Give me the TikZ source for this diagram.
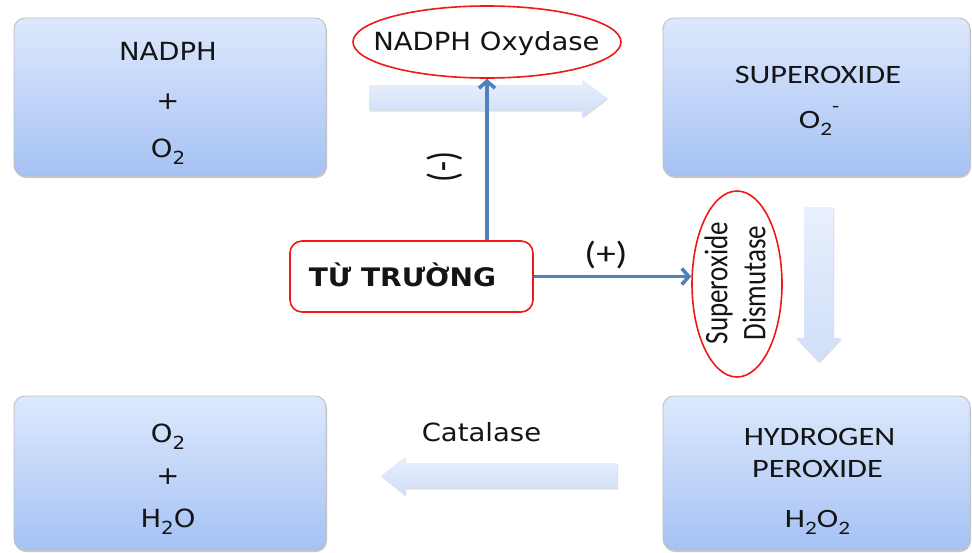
\documentclass[tikz,border=0pt]{standalone}
\usepackage{fontspec}
\usepackage{graphicx}
\usetikzlibrary{shapes.geometric,arrows.meta,shadows}
\setmainfont{DejaVu Sans}
\newfontfamily\vfont[FakeStretch=1.1]{DejaVu Sans}
\newfontfamily\cfont[FakeStretch=1.22]{Carlito}
\newfontfamily\cfontup{Carlito}

\definecolor{boxtop}{HTML}{DDE8FC}
\definecolor{boxbot}{HTML}{A5C2F4}
\definecolor{arrtop}{HTML}{E9F0FD}
\definecolor{arrbot}{HTML}{D0DEF8}
\definecolor{linkblue}{HTML}{4F81BD}
\definecolor{ink}{HTML}{141414}
\definecolor{enzred}{HTML}{F01818}

% chemical subscripts / charge
\newcommand\lowsub[1]{\raisebox{-0.28em}{\scalebox{0.72}{#1}}}
\newcommand\highminus{\raisebox{0.62em}{\scalebox{0.72}{-}}}

\begin{document}
\begin{tikzpicture}[x=1pt,y=-1pt,
  chembox/.style={rectangle, rounded corners=11pt, draw=black!25, line width=0.9pt,
    top color=boxtop, bottom color=boxbot, inner sep=0pt,
    drop shadow={shadow xshift=1pt, shadow yshift=-2pt, opacity=0.3, fill=black!70}},
  blockarrow/.style={top color=arrtop, bottom color=arrbot,
    drop shadow={shadow xshift=1pt, shadow yshift=-1.5pt, opacity=0.18, fill=black!70}},
  vtext/.style={font=\vfont\fontsize{25}{30}\selectfont, text=ink, inner sep=0pt, anchor=base},
  ctext/.style={font=\cfont\fontsize{26.5}{32}\selectfont, text=ink, inner sep=0pt, anchor=base},
  enzyme/.style={ellipse, draw=enzred, line width=1.6pt, fill=white, inner sep=0pt},
  link/.style={draw=linkblue, line width=3.6pt, -{Straight Barb[length=7pt,width=16pt]}},
]
\useasboundingbox (0,0) rectangle (972,552);
\fill[white] (0,0) rectangle (972,552);

% block arrows of the main pathway
\shade[blockarrow] (369,85) -- (582,85) -- (582,79) -- (607,98) -- (582,117)
  -- (582,110) -- (369,110) -- cycle;
\shade[blockarrow] (804,207) -- (833,207) -- (833,338) -- (841,338) -- (818.5,362)
  -- (796,338) -- (804,338) -- cycle;
\shade[blockarrow] (617,463) -- (405,463) -- (405,457) -- (381,476) -- (405,495)
  -- (405,488) -- (617,488) -- cycle;

% species boxes
\node[chembox, minimum width=312pt, minimum height=158pt] (nadph) at (170,97) {};
\node[vtext] (nadphA) at (168,60.5) {NADPH};
\node[vtext, anchor=center] (nadphB) at (168,102) {+};
\node[vtext] (nadphC) at (168,157) {O\lowsub{2}};

\node[chembox, minimum width=307pt, minimum height=158pt] (superox) at (816.5,97) {};
\node[ctext] (superoxA) at (818,83.5) {SUPEROXIDE};
\node[ctext] (superoxB) at (819,128.5) {O\lowsub{2}\highminus};

\node[chembox, minimum width=312pt, minimum height=154pt] (water) at (170,473) {};
\node[vtext] (waterA) at (168,442) {O\lowsub{2}};
\node[vtext, anchor=center] (waterB) at (168,477) {+};
\node[vtext] (waterC) at (168,527) {H\lowsub{2}O};

\node[chembox, minimum width=307pt, minimum height=154pt] (perox) at (816.5,473) {};
\node[ctext] (peroxA) at (819.5,445) {HYDROGEN};
\node[ctext] (peroxB) at (817.5,477) {PEROXIDE};
\node[ctext] (peroxC) at (817.5,527) {H\lowsub{2}O\lowsub{2}};

% enzymes
\node[enzyme, minimum width=268pt, minimum height=72pt] (oxy) at (487,42) {};
\node[vtext] (oxyT) at (486.5,50) {NADPH Oxydase};

\node[enzyme, minimum width=90pt, minimum height=186pt] (sod) at (737,284) {};
\node[font=\cfontup\fontsize{27}{38}\selectfont, text=ink, align=center, rotate=90,
  inner sep=0pt] (sodT) at (735,283)
  {\scalebox{1}[1.22]{Superoxide}\\\scalebox{1}[1.22]{Dismutase}};

\node[vtext] (catT) at (481.5,441.5) {Catalase};

% magnetic field
\node[rectangle, rounded corners=12pt, draw=enzred, line width=1.6pt, fill=white,
  minimum width=243pt, minimum height=71pt] (field) at (411.5,276.5) {};
\node[vtext, font=\vfont\bfseries\fontsize{25.5}{30}\selectfont] (fieldT) at (402.5,286)
  {TỪ TRƯỜNG};

% effects of the field
\draw[link] (field.north -| oxy.south) -- (oxy.south);
\draw[link] (field.east) -- (field.east -| sod.west);
\node[font=\cfontup\fontsize{33}{36}\selectfont, text=ink, rotate=-90, inner sep=0pt]
  (inhib) at (445,167) {\scalebox{1}[1.25]{(-)}};
\node[font=\cfont\fontsize{32}{36}\selectfont, text=ink, inner sep=0pt] (activ) at (606,255) {(+)};
\end{tikzpicture}
\end{document}
